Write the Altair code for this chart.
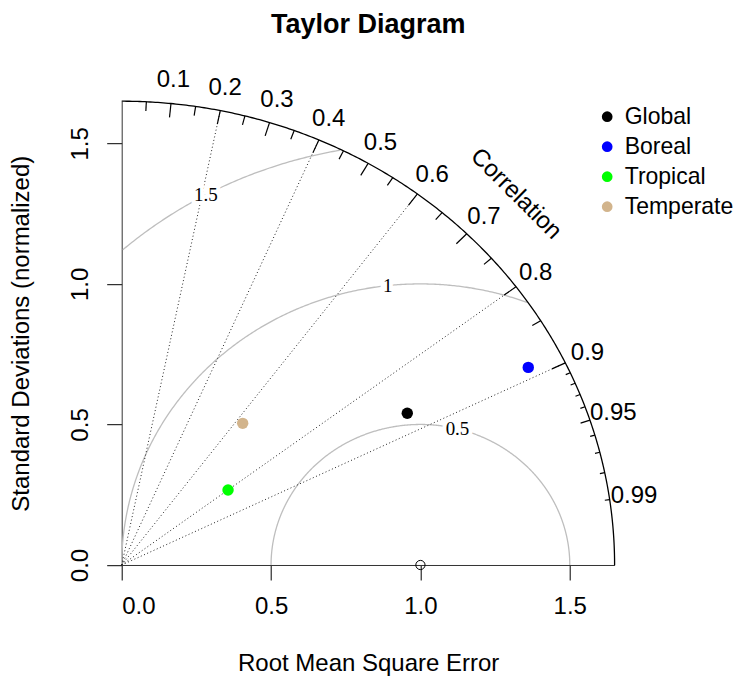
import altair as alt
import numpy as np
import pandas as pd

FONT = "Liberation Sans"

# ---- data ----
names = ["Global", "Boreal", "Tropical", "Temperate"]
colors = ["#000000", "#0000FF", "#00FF00", "#D2B48C"]
pt_x = [0.956, 1.361, 0.356, 0.405]
pt_y = [0.540, 0.703, 0.267, 0.504]

ref_sd = [1.0]
maxsd = 1.65
corr_lines = [0.2, 0.4, 0.6, 0.8, 0.9]
corr_labels = [0.1, 0.2, 0.3, 0.4, 0.5, 0.6, 0.7, 0.8, 0.9, 0.95, 0.99]
big_ticks = [0.1, 0.2, 0.3, 0.4, 0.5, 0.6, 0.7, 0.8, 0.9]
med_ticks = [0.05, 0.15, 0.25, 0.35, 0.45, 0.55, 0.65, 0.75, 0.85, 0.95]
small_ticks = [0.91, 0.92, 0.93, 0.94, 0.96, 0.97, 0.98, 0.99]
gammas = [0.5, 1.0, 1.5]
gamma_label_ang = [1.32, 1.68, 2.07]
axis_ticks = [0.0, 0.5, 1.0, 1.5]
title_text = ["Taylor Diagram"]

# ---- tables built from the arrays ----
pts = pd.DataFrame({"name": names, "x": pt_x, "y": pt_y})
ref = pd.DataFrame({"x": ref_sd, "y": [0.0]})

rows = []
for g in gammas:
    t = np.linspace(0, np.pi, 600)
    xs = ref_sd[0] + g * np.cos(t)
    ys = g * np.sin(t)
    keep = (xs >= 0) & (xs ** 2 + ys ** 2 <= maxsd ** 2)
    for i, (a, b) in enumerate(zip(xs[keep], ys[keep])):
        rows.append({"g": "g%s" % g, "i": i, "x": a, "y": b})
t = np.linspace(0, np.pi / 2, 300)
outer = pd.DataFrame({"g": "outer", "i": np.arange(len(t)),
                      "x": maxsd * np.cos(t), "y": maxsd * np.sin(t)})
garcs = pd.DataFrame(rows)

glab = pd.DataFrame({
    "x": [ref_sd[0] + g * np.cos(a) for g, a in zip(gammas, gamma_label_ang)],
    "y": [g * np.sin(a) for g, a in zip(gammas, gamma_label_ang)],
    "t": ["0.5", "1", "1.5"],
})

clines = pd.DataFrame({
    "x": [0.0] * len(corr_lines), "y": [0.0] * len(corr_lines),
    "x2": [maxsd * c for c in corr_lines],
    "y2": [maxsd * np.sqrt(1 - c * c) for c in corr_lines],
})


def ticks(vals, frac):
    return pd.DataFrame({
        "x": [maxsd * c for c in vals],
        "y": [maxsd * np.sqrt(1 - c * c) for c in vals],
        "x2": [frac * maxsd * c for c in vals],
        "y2": [frac * maxsd * np.sqrt(1 - c * c) for c in vals],
    })


tick_df = pd.concat([ticks(big_ticks, 0.97), ticks(med_ticks, 0.98),
                     ticks(small_ticks, 0.99)])

clab = pd.DataFrame({
    "x": [1.05 * maxsd * c for c in corr_labels],
    "y": [1.05 * maxsd * np.sqrt(1 - c * c) for c in corr_labels],
    "t": [str(c) for c in corr_labels],
})
ctitle = pd.DataFrame({"x": [0.8 * maxsd], "y": [0.8 * maxsd], "t": ["Correlation"]})

# ---- scales & axes ----
FS = 24
W, H = 492.9, 463.8
sx = alt.Scale(domain=[0, maxsd], nice=False, zero=False)
sy = alt.Scale(domain=[0, maxsd], nice=False, zero=False)
ax_x = alt.Axis(values=axis_ticks, format=".1f", tickSize=15, labelFontSize=FS,
                labelFont=FONT, labelPadding=27, labelBaseline="middle",
                labelColor="black", tickColor="black", domainColor="#333333",
                grid=False, title="Root Mean Square Error", titleFont=FONT,
                titleFontSize=FS, titleFontWeight="normal", titleColor="black",
                titleY=99, titleBaseline="middle")
ax_y = alt.Axis(values=axis_ticks, format=".1f", tickSize=15, labelFontSize=FS,
                labelFont=FONT, labelAngle=-90, labelAlign="center",
                labelBaseline="alphabetic", labelPadding=19,
                labelColor="black", tickColor="black", domainColor="#333333",
                grid=False, title="Standard Deviations (normalized)",
                titleFont=FONT, titleFontSize=FS, titleFontWeight="normal",
                titleColor="black", titleX=-100, titleY=232, titleAngle=-90,
                titleAlign="center", titleBaseline="middle")


def X(f="x"):
    return alt.X(f, type="quantitative", scale=sx, axis=ax_x)


def Y(f="y"):
    return alt.Y(f, type="quantitative", scale=sy, axis=ax_y)


arc_layer = alt.Chart(garcs).mark_line(color="#bebebe", strokeWidth=1.3).encode(
    x=X(), y=Y(), detail="g:N", order="i:Q")
outer_layer = alt.Chart(outer).mark_line(color="black", strokeWidth=1.3).encode(
    x=X(), y=Y(), order="i:Q")
cline_layer = alt.Chart(clines).mark_rule(color="#222222", strokeWidth=1,
                                          strokeDash=[1, 2.5]).encode(
    x=X(), y=Y(), x2="x2:Q", y2="y2:Q")
tick_layer = alt.Chart(tick_df).mark_rule(color="black", strokeWidth=1.2).encode(
    x=X(), y=Y(), x2="x2:Q", y2="y2:Q")
halo = alt.Chart(glab).mark_text(font="Liberation Serif", fontSize=19, fill="white",
                                 stroke="white", strokeWidth=8).encode(
    x=X(), y=Y(), text="t:N")
glab_layer = alt.Chart(glab).mark_text(font="Liberation Serif", fontSize=19,
                                       color="black").encode(
    x=X(), y=Y(), text="t:N")
clab_layer = alt.Chart(clab).mark_text(font=FONT, fontSize=FS, color="black").encode(
    x=X(), y=Y(), text="t:N")
ctitle_layer = alt.Chart(ctitle).mark_text(font=FONT, fontSize=FS, color="black",
                                           angle=45).encode(
    x=X(), y=Y(), text="t:N")
ref_layer = alt.Chart(ref).mark_point(shape="circle", filled=False, color="black",
                                      size=85, strokeWidth=1, opacity=1).encode(
    x=X(), y=Y())
pt_layer = alt.Chart(pts).mark_circle(size=130, opacity=1).encode(
    x=X(), y=Y(),
    color=alt.Color("name:N", scale=alt.Scale(domain=names, range=colors),
                    legend=alt.Legend(title=None, orient="none", legendX=474,
                                      legendY=4, labelFontSize=23, labelFont=FONT,
                                      labelColor="black", symbolSize=115,
                                      symbolType="circle", symbolStrokeWidth=0,
                                      labelOffset=6, rowPadding=6, padding=0)),
)
title_layer = alt.Chart(pd.DataFrame({"t": title_text})).mark_text(
    font=FONT, fontSize=27, fontWeight="bold", color="black",
    align="center", baseline="alphabetic").encode(
    x=alt.value(W / 2), y=alt.value(-68), text="t:N")

chart = alt.layer(
    arc_layer, cline_layer, outer_layer, tick_layer, halo, glab_layer,
    clab_layer, ctitle_layer, ref_layer, pt_layer, title_layer
).properties(
    width=W, height=H,
    padding={"left": 113.7, "top": 93.2, "right": 122, "bottom": 114},
    autosize=alt.AutoSizeParams(type="none"),
).configure_view(strokeWidth=0)

chart.save("out.html", embed_options={"renderer": "svg", "actions": False})
